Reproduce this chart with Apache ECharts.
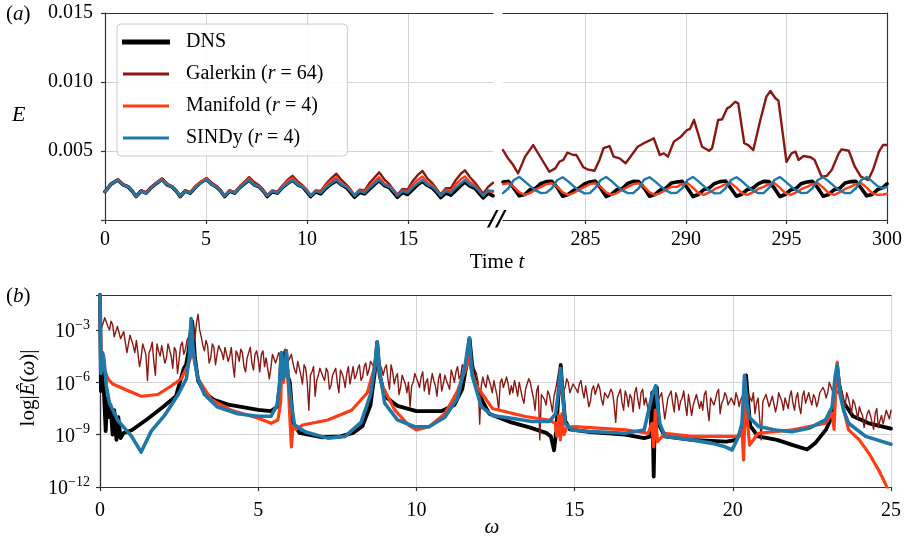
<!DOCTYPE html>
<html><head><meta charset="utf-8">
<script src="https://cdn.jsdelivr.net/npm/echarts@6/dist/echarts.min.js"></script>
<style>html,body{margin:0;padding:0;background:#fff}#c{width:905px;height:541px}</style>
</head><body><div id="c"></div>
<script>
// ---------- Panel (a), left segment: time and energy ----------
const tLeft = [0, 0.3,
  0.64, 0.89, 1.14, 1.34, 1.54, 1.79, 2.04, 2.29, 2.54,
  2.82, 3.07, 3.32, 3.52, 3.72, 3.97, 4.22, 4.47, 4.72,
  5.02, 5.27, 5.52, 5.72, 5.92, 6.17, 6.42, 6.67, 6.92,
  7.13, 7.38, 7.63, 7.83, 8.03, 8.28, 8.53, 8.78, 9.03,
  9.28, 9.53, 9.78, 9.98, 10.18, 10.43, 10.68, 10.93, 11.18,
  11.45, 11.7, 11.95, 12.15, 12.35, 12.6, 12.85, 13.1, 13.35,
  13.57, 13.82, 14.07, 14.27, 14.47, 14.72, 14.97, 15.22, 15.47,
  15.71, 15.96, 16.21, 16.41, 16.61, 16.86, 17.11, 17.36, 17.61,
  17.81, 18.06, 18.31, 18.51, 18.71, 18.96, 19.2];
const dnsLeft = [0.00205, 0.00260,
  0.00290, 0.00255, 0.00240, 0.00210, 0.00170, 0.00210, 0.00195, 0.00235, 0.00265,
  0.00295, 0.00255, 0.00240, 0.00210, 0.00170, 0.00210, 0.00195, 0.00235, 0.00270,
  0.00295, 0.00260, 0.00240, 0.00210, 0.00170, 0.00210, 0.00195, 0.00235, 0.00265,
  0.00290, 0.00255, 0.00240, 0.00210, 0.00170, 0.00205, 0.00195, 0.00235, 0.00265,
  0.00290, 0.00255, 0.00240, 0.00205, 0.00170, 0.00205, 0.00190, 0.00230, 0.00260,
  0.00285, 0.00255, 0.00235, 0.00200, 0.00165, 0.00200, 0.00190, 0.00225, 0.00260,
  0.00285, 0.00250, 0.00235, 0.00200, 0.00165, 0.00200, 0.00185, 0.00220, 0.00255,
  0.00280, 0.00250, 0.00230, 0.00200, 0.00162, 0.00195, 0.00180, 0.00215, 0.00250,
  0.00275, 0.00245, 0.00230, 0.00195, 0.00160, 0.00195, 0.00175];
const galerkinLeft = [0.00210, 0.00262,
  0.00295, 0.00260, 0.00245, 0.00215, 0.00175, 0.00215, 0.00200, 0.00240, 0.00270,
  0.00300, 0.00265, 0.00245, 0.00215, 0.00175, 0.00215, 0.00200, 0.00245, 0.00275,
  0.00305, 0.00270, 0.00245, 0.00215, 0.00175, 0.00215, 0.00200, 0.00245, 0.00280,
  0.00310, 0.00275, 0.00250, 0.00220, 0.00180, 0.00215, 0.00205, 0.00250, 0.00290,
  0.00320, 0.00280, 0.00250, 0.00220, 0.00180, 0.00215, 0.00210, 0.00260, 0.00300,
  0.00335, 0.00290, 0.00255, 0.00220, 0.00180, 0.00220, 0.00215, 0.00270, 0.00310,
  0.00345, 0.00295, 0.00260, 0.00220, 0.00185, 0.00225, 0.00220, 0.00280, 0.00325,
  0.00355, 0.00300, 0.00265, 0.00225, 0.00185, 0.00230, 0.00230, 0.00290, 0.00335,
  0.00360, 0.00310, 0.00270, 0.00230, 0.00190, 0.00240, 0.00270];
const manifoldLeft = [0.00205, 0.00260,
  0.00290, 0.00255, 0.00240, 0.00210, 0.00170, 0.00210, 0.00195, 0.00235, 0.00270,
  0.00295, 0.00260, 0.00240, 0.00210, 0.00172, 0.00210, 0.00197, 0.00240, 0.00275,
  0.00300, 0.00260, 0.00242, 0.00210, 0.00172, 0.00212, 0.00198, 0.00240, 0.00275,
  0.00300, 0.00260, 0.00242, 0.00212, 0.00175, 0.00212, 0.00200, 0.00245, 0.00280,
  0.00305, 0.00265, 0.00245, 0.00215, 0.00175, 0.00215, 0.00200, 0.00250, 0.00285,
  0.00310, 0.00265, 0.00245, 0.00215, 0.00175, 0.00215, 0.00205, 0.00250, 0.00285,
  0.00310, 0.00265, 0.00245, 0.00215, 0.00178, 0.00215, 0.00205, 0.00255, 0.00290,
  0.00315, 0.00270, 0.00250, 0.00215, 0.00178, 0.00220, 0.00210, 0.00260, 0.00295,
  0.00315, 0.00275, 0.00250, 0.00215, 0.00180, 0.00210, 0.00205];
const sindyLeft = [0.00205, 0.00260,
  0.00290, 0.00255, 0.00240, 0.00210, 0.00172, 0.00210, 0.00195, 0.00235, 0.00265,
  0.00290, 0.00255, 0.00240, 0.00210, 0.00175, 0.00210, 0.00197, 0.00235, 0.00265,
  0.00292, 0.00255, 0.00240, 0.00210, 0.00175, 0.00210, 0.00197, 0.00235, 0.00265,
  0.00290, 0.00255, 0.00240, 0.00210, 0.00175, 0.00210, 0.00197, 0.00235, 0.00265,
  0.00290, 0.00255, 0.00240, 0.00210, 0.00175, 0.00210, 0.00197, 0.00235, 0.00265,
  0.00290, 0.00255, 0.00240, 0.00210, 0.00175, 0.00210, 0.00197, 0.00235, 0.00265,
  0.00292, 0.00255, 0.00240, 0.00210, 0.00175, 0.00210, 0.00197, 0.00235, 0.00265,
  0.00290, 0.00255, 0.00240, 0.00210, 0.00175, 0.00210, 0.00197, 0.00235, 0.00265,
  0.00290, 0.00255, 0.00240, 0.00210, 0.00175, 0.00215, 0.00210];

// ---------- Panel (a), right segment ----------
const tRight = [
  280.9, 281.17, 281.44, 281.71, 281.98, 282.25, 282.52, 282.79,
  283.06, 283.33, 283.6, 283.87, 284.14, 284.41, 284.68, 284.95,
  285.22, 285.49, 285.76, 286.03, 286.3, 286.57, 286.84, 287.11,
  287.38, 287.65, 287.92, 288.19, 288.46, 288.73, 289.0, 289.27,
  289.54, 289.81, 290.08, 290.35, 290.62, 290.89, 291.16, 291.43,
  291.7, 291.97, 292.24, 292.51, 292.78, 293.05, 293.32, 293.59,
  293.86, 294.13, 294.4, 294.67, 294.94, 295.21, 295.48, 295.75,
  296.02, 296.29, 296.56, 296.83, 297.1, 297.37, 297.64, 297.91,
  298.18, 298.45, 298.72, 298.99, 299.26, 299.53, 299.8, 300.0];
const dnsRight = [
  0.00275, 0.00280, 0.00230, 0.00175, 0.00185, 0.00220, 0.00230, 0.00265,
  0.00278, 0.00280, 0.00235, 0.00172, 0.00185, 0.00215, 0.00230, 0.00262,
  0.00275, 0.00282, 0.00230, 0.00170, 0.00188, 0.00220, 0.00228, 0.00265,
  0.00280, 0.00278, 0.00232, 0.00172, 0.00185, 0.00218, 0.00230, 0.00268,
  0.00275, 0.00280, 0.00230, 0.00170, 0.00185, 0.00220, 0.00232, 0.00265,
  0.00278, 0.00282, 0.00228, 0.00172, 0.00187, 0.00220, 0.00230, 0.00262,
  0.00280, 0.00278, 0.00230, 0.00170, 0.00185, 0.00218, 0.00230, 0.00265,
  0.00275, 0.00280, 0.00232, 0.00172, 0.00185, 0.00220, 0.00228, 0.00268,
  0.00278, 0.00280, 0.00230, 0.00175, 0.00185, 0.00220, 0.00235, 0.00262];
const manifoldRight = [
  0.00260, 0.00266, 0.00240, 0.00200, 0.00182, 0.00195, 0.00220, 0.00240,
  0.00260, 0.00266, 0.00240, 0.00200, 0.00182, 0.00195, 0.00220, 0.00240,
  0.00260, 0.00266, 0.00240, 0.00200, 0.00182, 0.00195, 0.00220, 0.00240,
  0.00260, 0.00266, 0.00240, 0.00200, 0.00182, 0.00195, 0.00220, 0.00240,
  0.00240, 0.00260, 0.00266, 0.00235, 0.00195, 0.00182, 0.00200, 0.00225,
  0.00240, 0.00260, 0.00266, 0.00235, 0.00195, 0.00182, 0.00200, 0.00225,
  0.00240, 0.00260, 0.00266, 0.00235, 0.00195, 0.00182, 0.00200, 0.00225,
  0.00240, 0.00260, 0.00266, 0.00235, 0.00195, 0.00182, 0.00200, 0.00225,
  0.00240, 0.00260, 0.00266, 0.00235, 0.00195, 0.00182, 0.00185, 0.00190];
const sindyRight = [
  0.00195, 0.00230, 0.00290, 0.00312, 0.00280, 0.00245, 0.00215, 0.00195,
  0.00198, 0.00230, 0.00290, 0.00310, 0.00280, 0.00245, 0.00215, 0.00193,
  0.00195, 0.00232, 0.00290, 0.00312, 0.00282, 0.00245, 0.00215, 0.00195,
  0.00195, 0.00230, 0.00292, 0.00310, 0.00280, 0.00245, 0.00215, 0.00195,
  0.00197, 0.00230, 0.00290, 0.00312, 0.00280, 0.00245, 0.00215, 0.00193,
  0.00195, 0.00230, 0.00290, 0.00310, 0.00282, 0.00245, 0.00215, 0.00195,
  0.00195, 0.00232, 0.00290, 0.00312, 0.00280, 0.00245, 0.00215, 0.00195,
  0.00197, 0.00230, 0.00290, 0.00310, 0.00280, 0.00245, 0.00215, 0.00195,
  0.00195, 0.00230, 0.00290, 0.00312, 0.00280, 0.00245, 0.00230, 0.00240];
const tGalerkinRight = [280.9, 281.15, 281.4, 281.65, 282.0, 282.4, 282.7, 283.2, 283.5, 283.7,
  283.9, 284.1, 284.4, 284.55, 284.9, 285.1, 285.45, 285.7, 285.9, 286.2,
  286.4, 286.7, 287.0, 287.3, 287.6, 287.9, 288.25, 288.4, 288.7, 288.9,
  289.1, 289.4, 289.75, 290.05, 290.2, 290.4, 290.55, 290.8, 291.15, 291.3,
  291.6, 291.8, 292.05, 292.2, 292.45, 292.6, 292.9, 293.1, 293.35, 293.7,
  294.0, 294.2, 294.45, 294.6, 295.0, 295.25, 295.45, 295.6, 295.85, 296.2,
  296.4, 296.75, 297.0, 297.25, 297.6, 297.75, 298.1, 298.4, 298.7, 299.06,
  299.3, 299.6, 299.8, 300.0];
const galerkinRight = [0.00507, 0.00447, 0.00400, 0.00338, 0.00459, 0.00543, 0.00471, 0.00350, 0.00374, 0.00422,
  0.00435, 0.00488, 0.00471, 0.00471, 0.00382, 0.00367, 0.00357, 0.00435, 0.00520, 0.00536,
  0.00459, 0.00447, 0.00411, 0.00471, 0.00531, 0.00556, 0.00580, 0.00592, 0.00471, 0.00483,
  0.00459, 0.00568, 0.00604, 0.00652, 0.00660, 0.00725, 0.00652, 0.00531, 0.00502, 0.00520,
  0.00725, 0.00730, 0.00809, 0.00821, 0.00857, 0.00845, 0.00556, 0.00543, 0.00507, 0.00725,
  0.00894, 0.00935, 0.00882, 0.00865, 0.00422, 0.00483, 0.00495, 0.00435, 0.00464, 0.00455,
  0.00435, 0.00314, 0.00320, 0.00362, 0.00483, 0.00512, 0.00502, 0.00386, 0.00314, 0.00290,
  0.00362, 0.00495, 0.00543, 0.00543];

// ---------- Panel (b): log10 |E(omega)| ----------
const dnsSpectrum = [[0, -1.0], [0.03, -6.5], [0.08, -4.6], [0.13, -6.8], [0.18, -8.8], [0.23, -6.9], [0.28, -8.0], [0.33, -7.3],
  [0.4, -9.0], [0.45, -7.6], [0.52, -9.3], [0.58, -8.0], [0.65, -9.2], [0.75, -8.9], [1.0, -8.75], [1.5, -8.1], [2.0, -7.4],
  [2.4, -6.8], [2.65, -5.2], [2.72, -5.0], [2.8, -4.2], [2.87, -3.0], [2.91, -2.5], [2.95, -3.2], [3.0, -4.6], [3.1, -5.9],
  [3.3, -6.6], [3.6, -7.0], [4.1, -7.3], [5.0, -7.58], [5.4, -7.65], [5.6, -7.4], [5.68, -6.2], [5.73, -4.4], [5.78, -5.6],
  [5.83, -5.0], [5.88, -4.2], [5.93, -5.6], [6.0, -6.0], [6.1, -8.3], [6.3, -8.9], [7.0, -9.15], [7.6, -9.1], [8.0, -8.9],
  [8.3, -8.5], [8.55, -7.3], [8.68, -5.5], [8.76, -3.7], [8.84, -5.6], [9.0, -6.8], [9.4, -7.35], [10.0, -7.65], [10.8, -7.65],
  [11.2, -7.3], [11.45, -6.4], [11.6, -4.8], [11.68, -3.5], [11.76, -5.0], [11.95, -6.6], [12.3, -7.8], [13.0, -8.3],
  [13.6, -8.6], [14.1, -8.9], [14.25, -9.1], [14.35, -9.9], [14.42, -8.8], [14.5, -6.4], [14.56, -5.0], [14.62, -6.5],
  [14.7, -8.2], [14.85, -8.7], [15.5, -8.85], [16.6, -9.0], [17.2, -9.2], [17.4, -9.1], [17.45, -6.6], [17.5, -11.4],
  [17.55, -6.9], [17.6, -6.3], [17.66, -8.4], [17.85, -9.1], [18.7, -9.3], [19.8, -9.4], [20.1, -9.3], [20.3, -8.7],
  [20.37, -7.0], [20.42, -5.6], [20.48, -7.0], [20.55, -8.5], [20.8, -9.1], [21.4, -9.3], [21.9, -9.6], [22.35, -9.85],
  [22.6, -9.5], [22.95, -8.7], [23.15, -7.9], [23.24, -6.3], [23.3, -5.2], [23.37, -6.2], [23.48, -7.1], [23.8, -7.95],
  [24.3, -8.35], [25.0, -8.65]];
const sindySpectrum = [[0, -1.0], [0.03, -5.5], [0.08, -4.3], [0.12, -4.6], [0.2, -6.2], [0.3, -7.2], [0.57, -8.2], [1.0, -9.1],
  [1.3, -10.0], [1.62, -8.8], [2.04, -7.9], [2.47, -6.7], [2.73, -5.8], [2.82, -4.6], [2.88, -2.35], [2.94, -4.0], [3.0, -4.9],
  [3.1, -5.8], [3.3, -6.7], [3.7, -7.4], [4.35, -7.8], [5.0, -7.95], [5.4, -7.95], [5.6, -7.3], [5.68, -6.0], [5.73, -4.3],
  [5.78, -5.8], [5.84, -5.5], [5.89, -4.2], [5.95, -5.8], [6.05, -7.3], [6.15, -8.45], [6.5, -8.85], [7.2, -9.2], [7.75, -9.1],
  [8.25, -8.3], [8.55, -6.7], [8.68, -5.2], [8.76, -3.7], [8.83, -5.3], [9.0, -7.2], [9.4, -8.15], [9.95, -8.55], [10.4, -8.55],
  [10.9, -8.0], [11.3, -6.9], [11.55, -4.9], [11.67, -3.45], [11.76, -5.6], [12.05, -7.4], [12.4, -7.9], [13.0, -8.06],
  [13.65, -8.25], [14.2, -8.25], [14.4, -7.8], [14.5, -6.4], [14.56, -5.2], [14.64, -7.0], [14.7, -8.35], [14.92, -8.73],
  [15.55, -8.83], [16.6, -8.92], [17.2, -8.73], [17.44, -6.8], [17.56, -6.2], [17.64, -7.6], [17.7, -8.4], [17.86, -9.1],
  [18.7, -9.3], [19.35, -9.5], [19.76, -9.7], [19.98, -9.88], [20.18, -9.1], [20.29, -8.35], [20.37, -5.6], [20.45, -7.2],
  [20.52, -8.0], [20.82, -8.54], [21.35, -8.73], [21.87, -8.83], [22.4, -8.64], [22.93, -8.16], [23.14, -7.4], [23.24, -5.6],
  [23.3, -5.0], [23.38, -6.6], [23.5, -7.6], [23.66, -8.35], [24.2, -9.1], [25.0, -9.55]];
const manifoldSpectrum = [[0, -1.0], [0.03, -5.0], [0.08, -4.4], [0.15, -5.3], [0.25, -5.8], [0.4, -6.1], [0.78, -6.4],
  [1.3, -6.8], [1.83, -6.7], [2.26, -6.2], [2.57, -5.8], [2.78, -5.0], [2.88, -4.5], [2.92, -4.0], [2.97, -4.6], [3.1, -5.8],
  [3.52, -7.0], [4.15, -7.6], [5.0, -8.06], [5.41, -8.35], [5.62, -8.16], [5.71, -7.2], [5.75, -4.6], [5.8, -6.0], [5.86, -5.0],
  [5.9, -4.5], [5.96, -6.5], [6.0, -8.0], [6.05, -9.7], [6.1, -8.5], [6.2, -8.7], [6.4, -8.45], [7.2, -8.16], [7.95, -7.6],
  [8.45, -6.6], [8.65, -5.3], [8.74, -4.4], [8.8, -5.2], [8.92, -6.2], [9.32, -7.6], [9.75, -8.45], [10.0, -8.73],
  [10.4, -8.55], [10.9, -7.8], [11.3, -6.5], [11.54, -5.3], [11.64, -4.5], [11.72, -5.2], [11.9, -6.2], [12.4, -7.5],
  [13.44, -7.96], [14.18, -8.16], [14.39, -8.35], [14.44, -9.1], [14.5, -7.9], [14.55, -9.3], [14.6, -7.8], [14.66, -9.0],
  [14.75, -8.6], [15.0, -8.54], [16.6, -8.73], [17.33, -8.92], [17.44, -8.35], [17.5, -9.7], [17.55, -7.6], [17.62, -9.4],
  [17.86, -8.92], [18.7, -9.1], [19.8, -9.1], [20.2, -9.1], [20.29, -8.73], [20.34, -10.45], [20.4, -6.9], [20.47, -8.4],
  [20.53, -9.6], [20.8, -8.92], [21.9, -8.73], [22.93, -8.35], [23.14, -7.77], [23.2, -8.7], [23.26, -6.2], [23.3, -4.85],
  [23.37, -6.3], [23.48, -7.4], [23.66, -8.73], [24.0, -9.3], [24.3, -10.07], [24.6, -11.0], [24.82, -11.8], [25.0, -12.6]];
// Galerkin spectrum: one row per unit of omega, samples evenly spaced inside the row
const galerkinSpectrumRows = [
  [-2.4, -2.9, -2.6, -2.3, -2.2, -2.8, -3.0, -2.5, -2.7, -3.4, -3.3, -2.8, -2.9, -3.5, -3.6, -3.1, -3.2, -4.3, -3.8, -3.3],
  [-3.4, -3.9, -4.3, -3.6, -3.7, -5.1, -4.6, -3.8, -3.9, -4.4, -5.9, -4.3, -4.1, -3.7, -4.8, -5.6, -3.8, -4.2, -4.5, -3.9],
  [-4.0, -4.9, -4.6, -3.8, -3.9, -4.5, -5.2, -4.0, -4.2, -5.5, -4.7, -3.9, -3.7, -4.4, -4.1, -3.6, -3.4, -3.9, -3.3, -2.9],
  [-3.5, -2.6, -2.1, -3.0, -3.4, -3.9, -4.2, -3.6, -3.9, -4.9, -4.6, -3.8, -4.0, -5.0, -4.4, -3.9, -3.8, -4.3, -4.7, -4.0],
  [-4.1, -4.8, -4.5, -4.0, -5.0, -5.7, -4.2, -4.4, -4.8, -4.1, -4.3, -5.1, -5.4, -4.6, -4.5, -4.0, -4.9, -5.3, -4.4, -4.2],
  [-4.7, -5.4, -4.4, -4.2, -5.1, -4.6, -4.6, -5.8, -5.2, -4.4, -4.5, -4.9, -4.9, -4.3, -4.6, -5.0, -4.3, -4.1, -4.5, -4.8],
  [-4.6, -4.4, -4.9, -5.3, -5.5, -4.8, -4.9, -5.6, -6.1, -5.0, -5.2, -6.0, -7.6, -5.6, -5.4, -5.1, -6.8, -5.9, -5.6, -5.2],
  [-5.3, -5.7, -5.9, -5.2, -5.4, -6.4, -6.2, -5.6, -5.5, -5.2, -6.0, -6.6, -5.3, -5.5, -5.8, -6.3, -5.5, -5.1, -6.1, -5.6],
  [-5.1, -5.8, -5.6, -5.2, -5.0, -5.9, -5.7, -5.1, -4.9, -5.6, -5.3, -4.8, -4.7, -5.1, -4.5, -4.3, -4.7, -5.0, -5.2, -5.6],
  [-5.2, -5.0, -5.8, -6.4, -5.0, -5.4, -6.1, -5.7, -5.5, -6.7, -6.3, -5.6, -5.7, -6.1, -6.6, -6.0, -7.4, -6.2, -6.0, -5.5],
  [-5.6, -6.0, -6.3, -5.7, -5.4, -6.5, -6.0, -5.8, -6.7, -6.1, -5.5, -5.9, -6.2, -6.8, -5.8, -5.5, -6.5, -6.1, -5.6, -5.9],
  [-5.9, -6.4, -5.3, -5.6, -6.0, -5.4, -5.1, -5.8, -5.6, -5.0, -4.9, -5.5, -5.2, -4.8, -4.6, -5.0, -4.9, -5.3, -5.5, -6.0],
  [-8.4, -6.2, -5.7, -6.1, -6.3, -5.6, -5.5, -6.2, -6.6, -5.9, -6.0, -6.8, -7.6, -6.0, -5.8, -6.3, -6.4, -5.7, -6.1, -6.7],
  [-6.2, -6.6, -5.9, -6.3, -6.8, -6.0, -6.1, -6.9, -7.2, -6.4, -6.3, -5.8, -6.0, -6.5, -6.9, -7.6, -6.5, -6.2, -9.3, -6.7],
  [-6.6, -7.0, -7.3, -6.5, -6.7, -7.2, -7.7, -6.8, -6.4, -5.9, -5.3, -6.4, -7.0, -6.5, -6.3, -5.8, -6.0, -6.6, -6.5, -6.1],
  [-6.0, -6.4, -6.6, -6.1, -5.9, -6.5, -6.9, -6.2, -6.3, -7.4, -7.1, -6.4, -6.2, -6.7, -6.8, -6.1, -6.4, -7.0, -7.3, -6.6],
  [-6.5, -6.9, -7.0, -6.4, -6.6, -7.3, -8.3, -6.9, -6.8, -6.4, -7.2, -7.6, -6.5, -6.8, -7.4, -6.7, -6.9, -7.7, -6.6, -6.3],
  [-7.0, -7.5, -6.6, -6.4, -7.3, -6.9, -6.8, -7.8, -7.4, -6.9, -6.5, -6.2, -6.4, -7.0, -7.1, -6.6, -6.7, -8.1, -7.5, -6.9],
  [-6.8, -6.5, -7.2, -7.7, -6.6, -6.9, -7.6, -7.1, -6.9, -6.5, -7.3, -7.9, -6.7, -6.6, -7.9, -7.3, -7.0, -6.7, -6.8, -7.5],
  [-7.1, -7.6, -6.7, -6.5, -7.5, -8.2, -6.9, -6.8, -7.3, -7.0, -6.6, -6.4, -7.8, -7.2, -7.0, -6.6, -6.8, -7.3, -7.4, -6.9],
  [-7.0, -7.3, -6.6, -6.9, -7.4, -7.0, -6.8, -6.5, -7.5, -8.0, -6.7, -6.9, -7.1, -6.6, -7.8, -7.2, -6.9, -7.0, -9.3, -7.1],
  [-7.2, -6.7, -6.8, -7.4, -7.5, -6.8, -6.9, -7.7, -7.3, -6.6, -6.7, -7.1, -7.6, -6.9, -7.0, -7.5, -6.8, -6.5, -7.2, -7.6],
  [-6.9, -6.6, -7.4, -7.8, -6.8, -6.5, -7.2, -6.9, -6.6, -7.0, -7.3, -6.7, -6.9, -7.4, -7.1, -6.6, -6.7, -6.3, -6.5, -6.9],
  [-6.6, -6.0, -6.1, -6.5, -6.3, -6.8, -6.9, -6.4, -6.2, -6.6, -7.0, -7.4, -6.6, -6.9, -7.3, -7.8, -7.0, -7.2, -7.6, -8.1],
  [-7.4, -7.7, -7.9, -8.6, -8.5, -7.8, -7.6, -7.9, -8.3, -8.7, -7.8, -7.5, -8.6, -8.2, -7.9, -8.4, -8.0, -7.6, -7.7, -8.1],
  [-7.6]
];

const leftTimeTicks = [0, 5, 10, 15];
const rightTimeTicks = [285, 290, 295, 300];
const logTicks = [-12, -9, -6, -3];

const names = ['DNS', 'Galerkin', 'Manifold', 'SINDy'];
const colors = { DNS: '#000000', Galerkin: '#8a1812', Manifold: '#ff3c14', SINDy: '#1f78aa' };

// ---------- build ----------
const FONT = '"Liberation Serif", "Times New Roman", serif';
const zip = (xs, ys) => xs.map((x, i) => [x, ys[i]]);
const galerkinPairs = [];
galerkinSpectrumRows.forEach((row, r) => row.forEach((v, j) => galerkinPairs.push([r + j / row.length, v])));

const spine = { show: true, lineStyle: { color: '#333', width: 1.2 } };
const grid = { show: true, lineStyle: { color: '#d4d4d4', width: 1 } };
const tick = { show: true, inside: false, length: 4, lineStyle: { color: '#333', width: 1.2 } };
const lbl = { color: '#000', fontFamily: FONT, fontSize: 20 };
const frameAxis = (gi, pos, min, max) => ({
  gridIndex: gi, position: pos, type: 'value', min, max,
  axisLine: spine, axisTick: { show: false }, axisLabel: { show: false }, splitLine: { show: false }
});

const sup = { '-12': '−12', '-9': '−9', '-6': '−6', '-3': '−3' };

function line(name, xi, yi, data, width, z) {
  return {
    name, type: 'line', xAxisIndex: xi, yAxisIndex: yi, data, symbol: 'none', showSymbol: false,
    lineStyle: { color: colors[name], width, join: 'round', cap: 'round' },
    itemStyle: { color: colors[name] }, z, animation: false
  };
}

const legendLabels = {
  DNS: 'DNS',
  Galerkin: 'Galerkin ({i|r} = 64)',
  Manifold: 'Manifold ({i|r} = 4)',
  SINDy: 'SINDy ({i|r} = 4)'
};

const option = {
  animation: false,
  backgroundColor: '#fff',
  grid: [
    { left: 105, top: 13, width: 388, height: 207 },
    { left: 503, top: 13, width: 386, height: 207 },
    { left: 100, top: 295, width: 791, height: 192 }
  ],
  xAxis: [
    { gridIndex: 0, type: 'value', min: 0, max: 19.2, position: 'bottom',
      axisLine: spine, axisTick: Object.assign({ customValues: leftTimeTicks }, tick),
      axisLabel: Object.assign({ customValues: leftTimeTicks, margin: 10 }, lbl), splitLine: grid },
    { gridIndex: 1, type: 'value', min: 280.9, max: 300, position: 'bottom',
      axisLine: spine, axisTick: Object.assign({ customValues: rightTimeTicks }, tick),
      axisLabel: Object.assign({ customValues: rightTimeTicks, margin: 10 }, lbl), splitLine: grid },
    { gridIndex: 2, type: 'value', min: 0, max: 25, interval: 5, position: 'bottom',
      axisLine: spine, axisTick: tick, axisLabel: Object.assign({ margin: 14 }, lbl), splitLine: grid },
    frameAxis(0, 'top', 0, 19.2),
    frameAxis(1, 'top', 280.9, 300),
    frameAxis(2, 'top', 0, 25)
  ],
  yAxis: [
    { gridIndex: 0, type: 'value', min: 0, max: 0.015, interval: 0.005, position: 'left',
      axisLine: spine, axisTick: tick, splitLine: grid,
      axisLabel: Object.assign({ margin: 12, formatter: v => (v < 1e-6 ? '' : v.toFixed(3)) }, lbl) },
    { gridIndex: 1, type: 'value', min: 0, max: 0.015, interval: 0.005, position: 'right',
      axisLine: spine, axisTick: { show: false }, axisLabel: { show: false }, splitLine: grid },
    { gridIndex: 2, type: 'value', min: -12, max: -1, interval: 3, position: 'left',
      axisLine: spine, axisTick: tick, splitLine: grid,
      axisLabel: Object.assign({
        margin: 10,
        formatter: v => (logTicks.indexOf(Math.round(v)) >= 0 && Math.abs(v - Math.round(v)) < 1e-6 ? '{b|10}{s|' + sup[String(Math.round(v))] + '}' : ''),
        rich: {
          b: { fontFamily: FONT, fontSize: 20, color: '#000', verticalAlign: 'bottom', lineHeight: 24 },
          s: { fontFamily: FONT, fontSize: 14, color: '#000', verticalAlign: 'top', lineHeight: 24, padding: [0, 0, 10, 0] }
        }
      }, lbl) },
    frameAxis(2, 'right', -12, -1)
  ],
  legend: {
    data: [
      { name: 'DNS', icon: 'rect', itemStyle: { color: colors.DNS, borderColor: colors.DNS, borderWidth: 2 } },
      { name: 'Galerkin', icon: 'rect', itemStyle: { color: colors.Galerkin, borderWidth: 0 } },
      { name: 'Manifold', icon: 'rect', itemStyle: { color: colors.Manifold, borderWidth: 0 } },
      { name: 'SINDy', icon: 'rect', itemStyle: { color: colors.SINDy, borderWidth: 0 } }
    ],
    left: 117, top: 24, orient: 'vertical',
    itemWidth: 46, itemHeight: 3, itemGap: 12,
    padding: [8, 24, 8, 5],
    backgroundColor: 'rgba(255,255,255,0.85)', borderColor: '#cccccc', borderWidth: 1, borderRadius: 4,
    textStyle: {
      fontFamily: FONT, fontSize: 20, color: '#000', padding: [0, 0, 0, 12],
      rich: { i: { fontFamily: FONT, fontSize: 20, fontStyle: 'italic', color: '#000' } }
    },
    formatter: n => legendLabels[n],
    z: 20
  },
  series: [
    line('DNS', 0, 0, zip(tLeft, dnsLeft), 3.6, 2),
    line('Galerkin', 0, 0, zip(tLeft, galerkinLeft), 2.4, 3),
    line('Manifold', 0, 0, zip(tLeft, manifoldLeft), 2.4, 4),
    line('SINDy', 0, 0, zip(tLeft, sindyLeft), 2.4, 5),
    line('DNS', 1, 1, zip(tRight, dnsRight), 3.6, 2),
    line('Galerkin', 1, 1, zip(tGalerkinRight, galerkinRight), 2.4, 3),
    line('Manifold', 1, 1, zip(tRight, manifoldRight), 2.4, 4),
    line('SINDy', 1, 1, zip(tRight, sindyRight), 2.4, 5),
    line('DNS', 2, 2, dnsSpectrum, 3.8, 2),
    line('Galerkin', 2, 2, galerkinPairs, 1.4, 3),
    line('Manifold', 2, 2, manifoldSpectrum, 3.2, 4),
    line('SINDy', 2, 2, sindySpectrum, 3.6, 5)
  ],
  graphic: [
    { type: 'text', left: 6, top: 4, style: { text: '({i|a})', fontFamily: FONT, fontSize: 21, fill: '#000',
      rich: { i: { fontFamily: FONT, fontSize: 21, fontStyle: 'italic' } } } },
    { type: 'text', left: 12, top: 104, style: { text: 'E', fontFamily: FONT, fontSize: 22, fontStyle: 'italic', fill: '#000' } },
    { type: 'text', x: 497, y: 262, style: { text: 'Time {i|t}', fontFamily: FONT, fontSize: 21, fill: '#000', align: 'center', verticalAlign: 'middle',
      rich: { i: { fontFamily: FONT, fontSize: 21, fontStyle: 'italic' } } } },
    { type: 'text', x: 497, y: 220, z: 30, style: { text: '//', fontFamily: '"DejaVu Sans", sans-serif', fontSize: 22, fontWeight: 'bold', fontStyle: 'italic', fill: '#000', align: 'center', verticalAlign: 'middle' } },
    { type: 'text', left: 6, top: 286, style: { text: '({i|b})', fontFamily: FONT, fontSize: 21, fill: '#000',
      rich: { i: { fontFamily: FONT, fontSize: 21, fontStyle: 'italic' } } } },
    { type: 'text', x: 28, y: 388, rotation: Math.PI / 2, style: { text: 'log|{i|Ê}({i|ω})|', fontFamily: FONT, fontSize: 21, fill: '#000', align: 'center', verticalAlign: 'middle',
      rich: { i: { fontFamily: FONT, fontSize: 21, fontStyle: 'italic' } } } },
    { type: 'text', x: 492, y: 527, style: { text: 'ω', fontFamily: FONT, fontSize: 21, fontStyle: 'italic', fill: '#000', align: 'center', verticalAlign: 'middle' } }
  ]
};

const chart = echarts.init(document.getElementById('c'), null, { renderer: 'canvas' });
chart.setOption(option);
</script>
</body></html>
